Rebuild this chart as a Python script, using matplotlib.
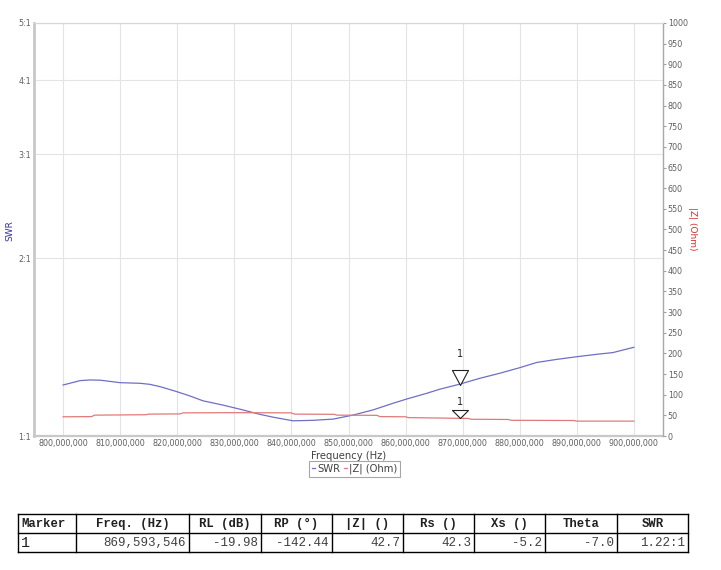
import matplotlib
matplotlib.use("Agg")
import matplotlib.pyplot as plt
from matplotlib.ticker import FixedLocator, NullLocator

# ---------------- data ----------------
swr_freq_mhz = [800.0, 803.0, 804.7, 806.5, 810.0, 813.5, 815.2, 817.0, 820.0, 822.2,
                824.5, 828.0, 831.0, 834.5, 836.8, 840.3, 843.8, 847.3, 850.8, 854.3,
                857.8, 860.2, 863.7, 866.0, 869.5, 873.0, 876.5, 880.0, 883.0, 886.5,
                890.0, 893.5, 896.3, 900.0]
swr_values = [1.220, 1.241, 1.244, 1.243, 1.231, 1.228, 1.223, 1.212, 1.188, 1.169,
              1.147, 1.128, 1.110, 1.088, 1.076, 1.061, 1.063, 1.068, 1.085, 1.107,
              1.136, 1.155, 1.181, 1.200, 1.224, 1.252, 1.277, 1.305, 1.332, 1.348,
              1.362, 1.375, 1.384, 1.413]

z_freq_mhz = [800.0, 805.0, 805.5, 814.5, 815.0, 820.5, 821.0, 830.0, 840.0, 840.5,
              847.5, 848.0, 855.0, 855.5, 860.0, 860.5, 866.0, 869.6, 871.0, 871.5,
              878.0, 878.5, 889.5, 890.0, 900.0]
z_values = [46.5, 47.0, 50.5, 51.5, 53.0, 53.5, 56.0, 56.5, 56.0, 53.0,
            52.5, 50.5, 50.0, 47.0, 46.5, 44.5, 43.5, 42.7, 42.5, 40.5,
            40.0, 38.0, 37.5, 36.0, 36.0]

x_ticks_mhz = [800, 810, 820, 830, 840, 850, 860, 870, 880, 890, 900]
swr_ticks = [1, 2, 3, 4, 5]
swr_tick_labels = ["1:1", "2:1", "3:1", "4:1", "5:1"]
z_ticks = list(range(0, 1001, 50))

marker_freq_hz = 869593546
marker_swr = 1.22
marker_z = 42.7

table_header = ["Marker", "Freq. (Hz)", "RL (dB)", "RP (°)", "|Z| ()", "Rs ()", "Xs ()", "Theta", "SWR"]
table_row = ["1", "869,593,546", "-19.98", "-142.44", "42.7", "42.3", "-5.2", "-7.0", "1.22:1"]

# ---------------- figure ----------------
W, H = 721, 570
fig = plt.figure(figsize=(W / 100, H / 100), dpi=100)
fig.patch.set_facecolor("white")

L, R, T, B = 34, 663, 23, 436
ax = fig.add_axes([L / W, 1 - B / H, (R - L) / W, (B - T) / H])
ax2 = ax.twinx()

blue = "#6f6fc4"
red = "#e07a7a"
tick_col = "#606060"

x_hz = [f * 1e6 for f in swr_freq_mhz]
xz_hz = [f * 1e6 for f in z_freq_mhz]

ax.plot(x_hz, swr_values, color=blue, lw=0.9, zorder=3, label="SWR")
ax2.plot(xz_hz, z_values, color=red, lw=0.9, zorder=3, label="|Z| (Ohm)")

ax.set_yscale("log")
ax.set_ylim(1, 5)
ax.yaxis.set_major_locator(FixedLocator(swr_ticks))
ax.yaxis.set_minor_locator(NullLocator())
ax.set_yticklabels(swr_tick_labels)
ax.set_xlim(794.9e6, 905.1e6)
ax.set_xticks([v * 1e6 for v in x_ticks_mhz])
ax.set_xticklabels([f"{int(v * 1e6):,}" for v in x_ticks_mhz])

ax2.set_ylim(0, 1000)
ax2.set_yticks(z_ticks)
ax2.set_yticklabels([str(v) for v in z_ticks])

ax.grid(True, which="major", color="#e4e4e4", lw=0.8)
ax.set_axisbelow(True)

for a in (ax, ax2):
    a.tick_params(axis="both", labelsize=5.8, colors=tick_col, length=0, pad=2)
ax2.tick_params(axis="y", length=2, pad=1.5, color="#a0a0a0")

ax.spines["top"].set_color("#d8d8d8"); ax2.spines["top"].set_color("#d8d8d8")
ax.spines["left"].set_color("#c8c8c8"); ax.spines["left"].set_linewidth(2.0)
ax.spines["bottom"].set_color("#c8c8c8"); ax.spines["bottom"].set_linewidth(1.6)
ax2.spines["bottom"].set_visible(False)
ax2.spines["left"].set_visible(False)
ax2.spines["right"].set_color("#a8a8a8"); ax2.spines["right"].set_linewidth(1.0)
ax.spines["right"].set_visible(False)

ax.set_xlabel("Frequency (Hz)", fontsize=7.2, color="#404040", labelpad=2)
fig.text(10 / W, 1 - 231 / H, "SWR", fontsize=6.5, color="#3030a0", rotation=90,
         ha="center", va="center")
fig.text(693 / W, 1 - 229 / H, "|Z| (Ohm)", fontsize=6.5, color="#d03030", rotation=-90,
         ha="center", va="center")

# markers
up_tri = [(-8, 15), (8, 15), (0, 0), (-8, 15)]
low_tri = [(-8, 8), (8, 8), (0, 0), (-8, 8)]
ax.plot([marker_freq_hz], [marker_swr], marker=up_tri, ms=21.6, mfc="white",
        mec="#202020", mew=0.8, zorder=5, clip_on=False)
ax2.plot([marker_freq_hz], [marker_z], marker=low_tri, ms=11.5, mfc="white",
         mec="#202020", mew=0.8, zorder=5, clip_on=False)
ax.annotate("1", (marker_freq_hz, marker_swr), xytext=(0, 22), textcoords="offset points",
            ha="center", va="center", fontsize=7, color="#202020")
ax2.annotate("1", (marker_freq_hz, marker_z), xytext=(0, 11.5), textcoords="offset points",
             ha="center", va="center", fontsize=7, color="#202020")

# legend
h1, l1 = ax.get_legend_handles_labels()
h2, l2 = ax2.get_legend_handles_labels()
leg = fig.legend(h1 + h2, l1 + l2, loc="center", bbox_to_anchor=(354.5 / W, 1 - 469 / H),
                 ncol=2, fontsize=7.2, frameon=True, fancybox=False, handlelength=0.35,
                 handletextpad=0.2, columnspacing=0.35, borderpad=0.25, borderaxespad=0)
leg.get_frame().set_edgecolor("#909090")
leg.get_frame().set_linewidth(0.8)
for t in leg.get_texts():
    t.set_color("#404040")

# table (drawn in pixel coordinates of an overlay axes)
tab = fig.add_axes([0, 0, 1, 1])
tab.set_xlim(0, W)
tab.set_ylim(H, 0)
tab.axis("off")
cols = [18, 76, 189, 261, 332, 403, 474, 545, 617, 688]
y_top, y_mid, y_bot = 514, 533, 552
lc = "#000000"
for yy in (y_top, y_mid, y_bot):
    tab.plot([cols[0], cols[-1]], [yy, yy], color=lc, lw=1.0)
for c in cols:
    tab.plot([c, c], [y_top, y_bot], color=lc, lw=1.0)
mono = "Liberation Mono"
for i, txt in enumerate(table_header):
    if i == 0:
        tab.text(cols[0] + 3, (y_top + y_mid) / 2 + 0.5, txt, ha="left", va="center",
                 family=mono, fontsize=8.8, weight="bold", color="#202020")
    else:
        tab.text((cols[i] + cols[i + 1]) / 2, (y_top + y_mid) / 2 + 0.5, txt, ha="center",
                 va="center", family=mono, fontsize=8.8, weight="bold", color="#202020")
for i, txt in enumerate(table_row):
    if i == 0:
        tab.text(cols[0] + 3, (y_mid + y_bot) / 2 + 0.5, txt, ha="left", va="center",
                 family=mono, fontsize=11, color="#202020")
    else:
        tab.text(cols[i + 1] - 3, (y_mid + y_bot) / 2 + 0.5, txt, ha="right", va="center",
                 family=mono, fontsize=9, color="#404040")

fig.savefig("out.png", dpi=100, facecolor="white")
